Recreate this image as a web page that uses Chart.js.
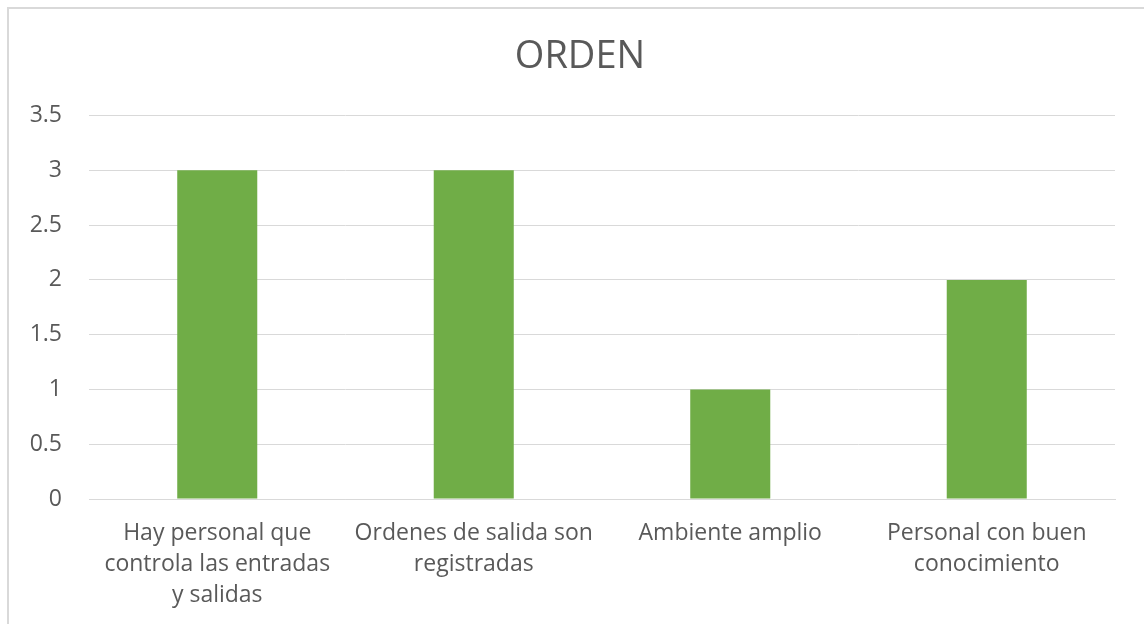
<!DOCTYPE html>
<html>
<head>
<meta charset="utf-8">
<script src="https://cdn.jsdelivr.net/npm/chart.js@4/dist/chart.umd.min.js"></script>
<style>
  html, body { margin: 0; padding: 0; background: #fff; overflow: hidden; }
  #frame {
    position: absolute; left: 7px; top: 7px;
    width: 1200px; height: 700px;
    border: 2px solid #d9d9d9;
  }
  #box { position: absolute; left: 0; top: 0; width: 1160px; height: 624px; }
</style>
</head>
<body>
<div id="frame"></div>
<div id="box"><canvas id="barChart"></canvas></div>
<script>
// data
var categories = [
    ["Hay personal que", "controla las entradas", "y salidas"],
    ["Ordenes de salida son", "registradas"],
    ["Ambiente amplio"],
    ["Personal con buen", "conocimiento"]
];
var values = [3, 3, 1, 2];
var yTicks = [0, 0.5, 1, 1.5, 2, 2.5, 3, 3.5];

var textColor = "#595959";
var gridColor = "#d9d9d9";

var ctx = document.getElementById("barChart").getContext("2d");
var barChart = new Chart(ctx, {
    type: "bar",
    data: {
        labels: categories,
        datasets: [{
            label: "ORDEN",
            data: values,
            backgroundColor: "#70ad47",
            borderWidth: 0,
            categoryPercentage: 1,
            barPercentage: 0.312
        }]
    },
    options: {
        responsive: true,
        maintainAspectRatio: false,
        animation: false,
        layout: { padding: 0 },
        plugins: {
            legend: { display: false },
            tooltip: { enabled: false },
            title: {
                display: true,
                text: "ORDEN",
                color: textColor,
                font: { family: "Open Sans", size: 38, weight: "normal", lineHeight: 1.2 },
                padding: { top: 34, bottom: 36 }
            }
        },
        scales: {
            x: {
                grid: { display: false, drawTicks: false },
                border: { display: true, color: gridColor, width: 1 },
                ticks: {
                    color: textColor,
                    autoSkip: false,
                    maxRotation: 0,
                    minRotation: 0,
                    padding: 19,
                    font: { family: "Open Sans", size: 23, lineHeight: 1.35 }
                },
                afterFit: function(axis) { axis.height = 125; }
            },
            y: {
                min: 0,
                max: 3.5,
                grid: { color: gridColor, lineWidth: 1, drawTicks: false },
                border: { display: false },
                ticks: {
                    color: textColor,
                    padding: 27,
                    font: { family: "Open Sans", size: 23 },
                    callback: function(v) { return String(v); }
                },
                afterBuildTicks: function(axis) {
                    axis.ticks = yTicks.map(function(v) { return { value: v }; });
                },
                afterFit: function(axis) { axis.width = 89; }
            },
            // empty right axis, only keeps the plot clear of the right side
            yRight: {
                position: "right",
                grid: { display: false, drawTicks: false },
                border: { display: false },
                ticks: { display: false },
                afterFit: function(axis) { axis.width = 45; }
            }
        }
    }
});
</script>
</body>
</html>
